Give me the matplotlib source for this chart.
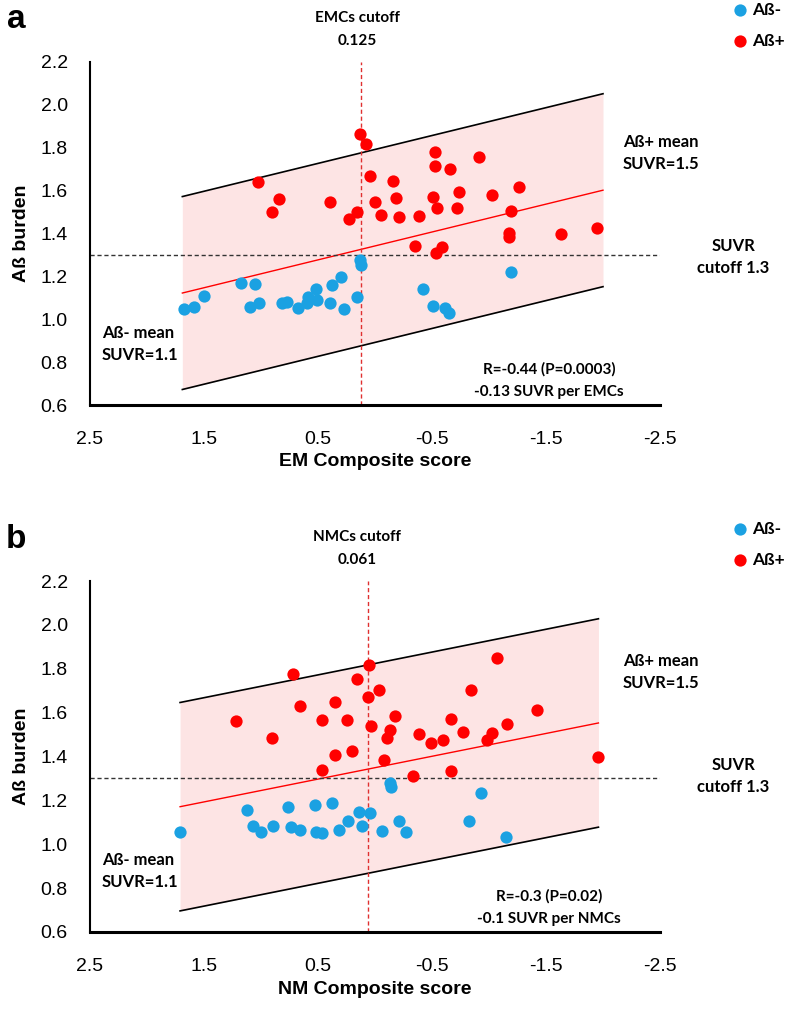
import numpy as np
import matplotlib
matplotlib.use("Agg")
import matplotlib.pyplot as plt

# ---- data ----
# panel a: EM composite score vs amyloid SUVR
em_neg_x = [0.133, 0.122, 1.175, 1.056, 1.502, 1.592, 1.676, 1.094, 1.021, 0.818,
            0.768, 0.675, 0.593, 0.52, 0.506, 0.585, 0.395, 0.375, 0.302, 0.273,
            0.157, -1.19, -0.42, -0.513, -0.615, -0.65]
em_neg_y = [1.276, 1.253, 1.17, 1.164, 1.108, 1.058, 1.046, 1.055, 1.074, 1.077,
            1.082, 1.054, 1.074, 1.14, 1.09, 1.105, 1.077, 1.16, 1.198, 1.046,
            1.105, 1.222, 1.14, 1.063, 1.054, 1.027]
em_pos_x = [0.133, 0.075, 1.03, 0.84, 0.905, 0.395, 0.157, 0.23, 0.048, -0.004,
            -0.056, -0.155, -0.18, -0.21, -0.388, -0.352, -0.522, -0.522, -0.659,
            -0.912, -0.513, -0.542, -0.74, -0.723, -1.022, -1.261, -1.19, -1.174,
            -1.174, -1.628, -1.945, -0.533, -0.592]
em_pos_y = [1.864, 1.817, 1.639, 1.559, 1.502, 1.547, 1.502, 1.468, 1.669, 1.547,
            1.486, 1.645, 1.567, 1.479, 1.483, 1.343, 1.778, 1.716, 1.703, 1.757,
            1.572, 1.517, 1.592, 1.52, 1.579, 1.618, 1.506, 1.403, 1.385, 1.396,
            1.427, 1.31, 1.338]

# panel b: NM composite score vs amyloid SUVR
nm_neg_x = [1.714, 1.126, 1.074, 1.0, 0.893, 0.759, 0.733, 0.657, 0.529, 0.52,
            0.468, 0.375, 0.317, 0.235, 0.136, 0.04, 0.113, -0.062, -0.135, -0.143,
            -0.207, -0.271, -0.927, -0.825, -1.153]
nm_neg_y = [1.055, 1.157, 1.084, 1.058, 1.081, 1.172, 1.078, 1.066, 1.177, 1.058,
            1.05, 1.19, 1.066, 1.107, 1.149, 1.142, 1.084, 1.061, 1.279, 1.26,
            1.104, 1.058, 1.233, 1.108, 1.031]
nm_pos_x = [0.055, 0.718, 0.162, -0.033, 0.06, 0.66, 0.352, 1.219, 0.462, 0.244,
            0.031, -0.173, -0.135, -0.105, 0.905, 0.352, 0.2, -0.083, 0.468,
            -1.066, -0.839, -1.424, -0.664, -0.775, -1.159, -1.022, -0.985, -0.388,
            -0.493, -0.594, -1.96, -0.332, -0.664]
nm_pos_y = [1.815, 1.774, 1.755, 1.705, 1.67, 1.632, 1.647, 1.563, 1.565, 1.568,
            1.537, 1.586, 1.522, 1.484, 1.484, 1.408, 1.423, 1.385, 1.34,
            1.85, 1.705, 1.61, 1.573, 1.512, 1.548, 1.507, 1.477, 1.504,
            1.462, 1.477, 1.4, 1.309, 1.336]

# regression fits (slope, intercept at 0, half width of band, x range)
em_fit = (-0.13, 1.342, 0.45, 1.69, -2.0)
nm_fit = (-0.104, 1.349, 0.475, 1.71, -1.96)
em_cutoff = 0.125
nm_cutoff = 0.061
suvr_cutoff = 1.3

xticks = [2.5, 1.5, 0.5, -0.5, -1.5, -2.5]
yticks = [0.6, 0.8, 1.0, 1.2, 1.4, 1.6, 1.8, 2.0, 2.2]

BLUE = "#1BA1E2"
RED = "#FF0000"
ANN = ["Lato", "DejaVu Sans"]
ARIAL = ["Liberation Sans", "DejaVu Sans"]

W, H = 788, 1011
fig = plt.figure(figsize=(W / 100, H / 100), dpi=100)


def fx(px):
    return px / W


def fy(py):
    return 1 - py / H


def panel(top, bottom, letter, neg_x, neg_y, pos_x, pos_y, fit, cutoff,
          cutoff_name, xlabel, r_text, slope_text):
    ax = fig.add_axes([fx(90), fy(bottom), 570 / W, (bottom - top) / H])
    slope, icpt, half, x0, x1 = fit
    bx = np.array([x0, x1])
    by = icpt + slope * bx
    ax.fill_between(bx, by - half, by + half, color="#FDE4E4", lw=0, zorder=0)
    ax.plot(bx, by + half, color="black", lw=1.2, zorder=1)
    ax.plot(bx, by - half, color="black", lw=1.2, zorder=1)
    ax.plot(bx, by, color=RED, lw=1.0, zorder=1)
    ax.axhline(suvr_cutoff, color="#333333", lw=1.0, ls=(0, (3, 2)), zorder=1)
    ax.axvline(cutoff, color="#E03030", lw=1.0, ls=(0, (3, 2)), zorder=1)
    hn = ax.scatter(neg_x, neg_y, s=78, color=BLUE, lw=0, zorder=3, label="Aß-")
    hp = ax.scatter(pos_x, pos_y, s=78, color=RED, lw=0, zorder=3, label="Aß+")

    ax.set_xlim(2.5, -2.5)
    ax.set_ylim(0.6, 2.2)
    ax.set_xticks(xticks)
    ax.set_xticklabels([f"{t:g}" for t in xticks])
    ax.set_yticks(yticks)
    ax.set_yticklabels([f"{t:.1f}" for t in yticks])
    for s in ["top", "right"]:
        ax.spines[s].set_visible(False)
    ax.spines["left"].set_linewidth(1.5)
    ax.spines["bottom"].set_linewidth(2.2)
    ax.tick_params(axis="x", length=0, pad=19, labelsize=14)
    ax.tick_params(axis="y", length=0, pad=16, labelsize=14)
    for lab in ax.get_xticklabels() + ax.get_yticklabels():
        lab.set_family(ARIAL)

    h = bottom - top
    ax.set_xlabel(xlabel, fontsize=14, fontweight="bold", family=ARIAL)
    ax.xaxis.set_label_coords(0.5, -(57 + 0) / h)
    ax.xaxis.label.set_va("center")
    ax.set_ylabel("Aß burden", fontsize=14, fontweight="bold", family=ARIAL)
    ax.yaxis.set_label_coords(-68 / 570, 0.5)
    ax.yaxis.label.set_va("center")

    ax.legend(handles=[hn, hp], loc="upper left",
              bbox_to_anchor=(fx(733), fy(top - 60)), bbox_transform=fig.transFigure,
              frameon=False, borderpad=0, borderaxespad=0, handlelength=0.8,
              handletextpad=0.3, labelspacing=0.85, scatterpoints=1,
              prop={"family": ANN, "weight": "bold", "size": 12.5})

    fig.text(fx(16), fy(top - 42), letter, fontsize=24, fontweight="bold",
             family=ARIAL, ha="center", va="center")
    fig.text(fx(357), fy(top - 44), f"{cutoff_name} cutoff", fontsize=11,
             fontweight="bold", family=ANN, ha="center", va="center")
    fig.text(fx(357), fy(top - 21), f"{cutoff:g}", fontsize=11,
             fontweight="bold", family=ANN, ha="center", va="center")
    fig.text(fx(623), fy(top + 80), "Aß+ mean", fontsize=12, fontweight="bold",
             family=ANN, ha="left", va="center")
    fig.text(fx(623), fy(top + 102), "SUVR=1.5", fontsize=12, fontweight="bold",
             family=ANN, ha="left", va="center")
    fig.text(fx(733), fy(top + 184), "SUVR", fontsize=12, fontweight="bold",
             family=ANN, ha="center", va="center")
    fig.text(fx(733), fy(top + 206), "cutoff 1.3", fontsize=12, fontweight="bold",
             family=ANN, ha="center", va="center")
    fig.text(fx(102), fy(bottom - 72), "Aß- mean", fontsize=12, fontweight="bold",
             family=ANN, ha="left", va="center")
    fig.text(fx(102), fy(bottom - 50), "SUVR=1.1", fontsize=12, fontweight="bold",
             family=ANN, ha="left", va="center")
    fig.text(fx(549), fy(bottom - 36), r_text, fontsize=11, fontweight="bold",
             family=ANN, ha="center", va="center")
    fig.text(fx(549), fy(bottom - 13), slope_text, fontsize=11, fontweight="bold",
             family=ANN, ha="center", va="center")
    return ax


panel(62, 405, "a", em_neg_x, em_neg_y, em_pos_x, em_pos_y, em_fit, em_cutoff,
      "EMCs", "EM Composite score", "R=-0.44 (P=0.0003)", "-0.13 SUVR per EMCs")
panel(581, 932, "b", nm_neg_x, nm_neg_y, nm_pos_x, nm_pos_y, nm_fit, nm_cutoff,
      "NMCs", "NM Composite score", "R=-0.3 (P=0.02)", "-0.1 SUVR per NMCs")

fig.savefig("out.png", dpi=100)
